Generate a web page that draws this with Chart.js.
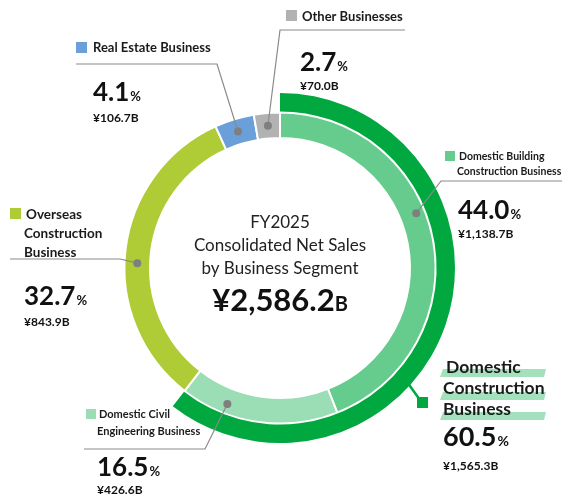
<!DOCTYPE html>
<html>
<head>
<meta charset="utf-8">
<script src="https://cdn.jsdelivr.net/npm/chart.js@4/dist/chart.umd.min.js"></script>
<style>
	body { margin: 0; background: #fff; }
	#holder { width: 562px; height: 501px; position: relative; }
</style>
</head>
<body>
<div id="holder"><canvas id="salesChart"></canvas></div>
<script>
// FY2025 consolidated net sales by segment
var segments = ["Domestic Building Construction Business", "Domestic Civil Engineering Business", "Overseas Construction Business", "Real Estate Business", "Other Businesses"];
var shares = [44.0, 16.5, 32.7, 4.1, 2.7];
var salesLabels = ["¥1,138.7B", "¥426.6B", "¥843.9B", "¥106.7B", "¥70.0B"];
var domesticShare = 60.5;
var domesticSales = "¥1,565.3B";
var totalSales = "¥2,586.2";
var fiscalYear = "FY2025";

var cols = ["#66CC8E", "#9BDDB4", "#AFCB36", "#6A9FD9", "#B2B2B2"];
var darkGreen = "#00A83F";
var lineCol = "#8A8A8A";
var FONT = "Lato, 'Open Sans', sans-serif";

// where each label sits on the page, and where its leader touches the ring
var labelLayout = [
	{ lines: ["Domestic Building", "Construction Business"], size: 10.5, x: 459, y: 160, lh: 15, sq: [445, 151, 10],
	  leader: [[562, 181], [441, 181]], dot: 0.43, dr: 4, pct: [458, 219], amt: 238 },
	{ lines: ["Domestic Civil", "Engineering Business"], size: 11, x: 99, y: 418, lh: 17, sq: [86, 409, 10],
	  leader: [[84, 449], [205, 449]], dot: 0.72, dr: 3, pct: [97, 476], amt: 494 },
	{ lines: ["Overseas", "Construction", "Business"], size: 13.5, x: 26, y: 219, lh: 19, sq: [10, 208, 11],
	  leader: [[10, 259], [120, 259]], dot: 0.46, dr: 0, pct: [24, 305], amt: 326 },
	{ lines: ["Real Estate Business"], size: 13, x: 93, y: 52, lh: 0, sq: [76, 42, 11],
	  leader: [[76, 64], [217, 64]], dot: 0.5, dr: 0, pct: [93, 101], amt: 122 },
	{ lines: ["Other Businesses"], size: 13, x: 302, y: 21, lh: 0, sq: [286, 10, 11],
	  leader: [[405, 30], [280, 30]], dot: 0.5, dr: 0, pct: [300, 71], amt: 90 }
];

function drawPct(ctx, value, x, y, big)
{
	var s = value.toFixed(1);
	ctx.textAlign = "left";
	ctx.textBaseline = "alphabetic";
	ctx.fillStyle = "#111";
	ctx.font = "bold " + big + "px " + FONT;
	ctx.fillText(s, x, y);
	var w = ctx.measureText(s).width;
	ctx.font = "bold " + Math.round(big * 0.5) + "px " + FONT;
	ctx.fillText("%", x + w + 1, y);
}

var labelPlugin = {
	id: "segmentLabels",
	afterDraw: function(chart)
	{
		var ctx = chart.ctx;
		var inner = chart.getDatasetMeta(2).data;
		var outer = chart.getDatasetMeta(0).data[0];
		var cx = outer.x, cy = outer.y;
		ctx.save();

		// centre text
		ctx.fillStyle = "#222";
		ctx.textAlign = "center";
		ctx.textBaseline = "alphabetic";
		ctx.font = "17px " + FONT;
		ctx.fillText(fiscalYear, cx, cy - 40);
		ctx.fillText("Consolidated Net Sales", cx, cy - 17);
		ctx.fillText("by Business Segment", cx, cy + 6);
		ctx.font = "bold 31px " + FONT;
		var tw = ctx.measureText(totalSales).width;
		ctx.font = "bold 20px " + FONT;
		var bw = ctx.measureText("B").width;
		var sx = cx - (tw + bw) / 2;
		ctx.textAlign = "left";
		ctx.fillStyle = "#111";
		ctx.font = "bold 31px " + FONT;
		ctx.fillText(totalSales, sx, cy + 43);
		ctx.font = "bold 20px " + FONT;
		ctx.fillText("B", sx + tw, cy + 43);

		// segment labels with leader lines
		for (var i = 0; i < labelLayout.length; i++)
		{
			var L = labelLayout[i];
			var arc = inner[i];
			var a = arc.startAngle + (arc.endAngle - arc.startAngle) * L.dot;
			var r = (arc.innerRadius + arc.outerRadius) / 2 + L.dr;
			var dx = arc.x + r * Math.cos(a);
			var dy = arc.y + r * Math.sin(a);

			ctx.strokeStyle = lineCol;
			ctx.lineWidth = 1.2;
			ctx.beginPath();
			ctx.moveTo(L.leader[0][0], L.leader[0][1]);
			ctx.lineTo(L.leader[1][0], L.leader[1][1]);
			ctx.lineTo(dx, dy);
			ctx.stroke();
			ctx.fillStyle = "#7F7F7F";
			ctx.beginPath();
			ctx.arc(dx, dy, 4, 0, Math.PI * 2);
			ctx.fill();

			ctx.fillStyle = cols[i];
			ctx.fillRect(L.sq[0], L.sq[1], L.sq[2], L.sq[2]);
			ctx.fillStyle = "#1a1a1a";
			ctx.font = "bold " + L.size + "px " + FONT;
			ctx.textAlign = "left";
			ctx.textBaseline = "alphabetic";
			for (var k = 0; k < L.lines.length; k++)
			{
				var lx = (k == 0) ? L.x : L.x - 2;
				ctx.fillText(L.lines[k], lx, L.y + k * L.lh);
			}

			drawPct(ctx, shares[i], L.pct[0], L.pct[1], 26);
			ctx.font = "bold 12px " + FONT;
			ctx.fillStyle = "#111";
			ctx.fillText(salesLabels[i], L.pct[0], L.amt);
		}

		// domestic construction total, tied to the outer arc
		var oa = outer.startAngle + (outer.endAngle - outer.startAngle) * 0.606;
		var ox = outer.x + outer.outerRadius * Math.cos(oa);
		var oy = outer.y + outer.outerRadius * Math.sin(oa);
		ctx.strokeStyle = darkGreen;
		ctx.lineWidth = 2.5;
		ctx.beginPath();
		ctx.moveTo(ox - 3, oy - 3);
		ctx.lineTo(420, 400);
		ctx.stroke();
		ctx.fillStyle = darkGreen;
		ctx.fillRect(417, 397, 11, 11);

		var bars = [369, 392, 412];
		ctx.fillStyle = "#A3E0BC";
		for (var b = 0; b < bars.length; b++)
		{
			ctx.beginPath();
			ctx.moveTo(443, bars[b]);
			ctx.lineTo(546, bars[b]);
			ctx.lineTo(544, bars[b] + 8);
			ctx.lineTo(440, bars[b] + 8);
			ctx.closePath();
			ctx.fill();
		}
		ctx.fillStyle = "#1a1a1a";
		ctx.font = "bold 17.5px " + FONT;
		ctx.fillText("Domestic", 446, 373);
		ctx.fillText("Construction", 443, 394);
		ctx.fillText("Business", 443, 415);
		drawPct(ctx, domesticShare, 443, 446, 27);
		ctx.font = "bold 12px " + FONT;
		ctx.fillStyle = "#111";
		ctx.fillText(domesticSales, 443, 470);

		ctx.restore();
	}
};

new Chart("salesChart", {
	type: "doughnut",
	data: {
		labels: segments,
		datasets: [
			{ data: [domesticShare, 100 - domesticShare], backgroundColor: [darkGreen, "rgba(0,0,0,0)"], borderWidth: 0, weight: 18 },
			{ data: [100], backgroundColor: ["rgba(0,0,0,0)"], borderWidth: 0, weight: 1 },
			{ data: shares, backgroundColor: cols, borderColor: "#ffffff", borderWidth: 2, weight: 25 }
		]
	},
	options: {
		responsive: true,
		maintainAspectRatio: false,
		animation: false,
		cutout: 130,
		layout: { padding: { left: 105, right: 107, top: 93, bottom: 58 } },
		plugins: {
			legend: { display: false },
			tooltip: { enabled: false }
		}
	},
	plugins: [labelPlugin]
});
</script>
</body>
</html>
